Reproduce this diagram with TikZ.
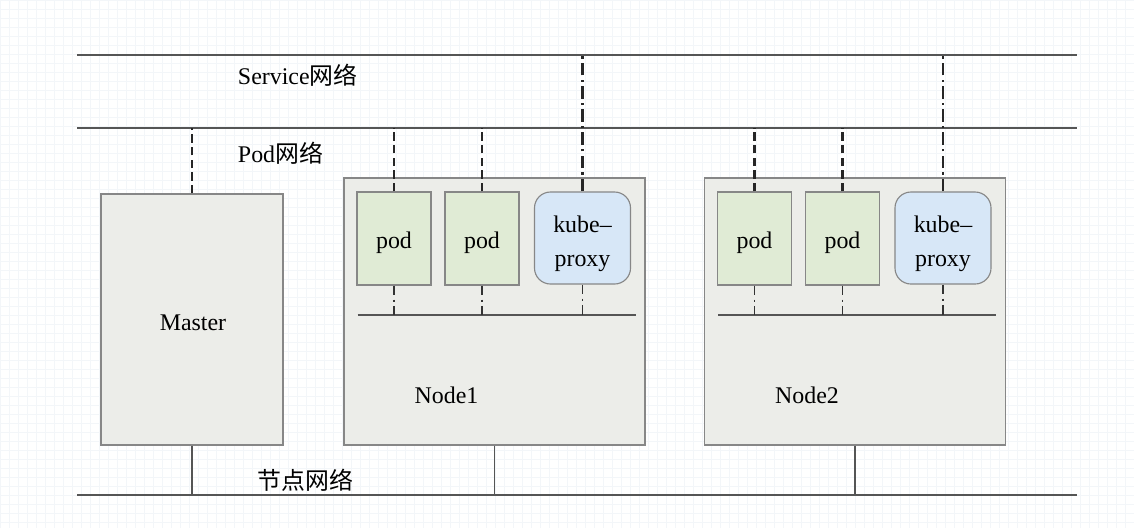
\documentclass[tikz,border=0pt]{standalone}
\usepackage{fontspec}
\setmainfont{Liberation Serif}
\newfontfamily\cjk{Noto Sans CJK SC}
\usetikzlibrary{positioning}
\definecolor{line1}{RGB}{85,85,85}
\definecolor{border1}{RGB}{135,135,135}
\definecolor{box1}{RGB}{236,237,233}
\definecolor{pod1}{RGB}{224,235,213}
\definecolor{proxy1}{RGB}{215,231,247}
\definecolor{grid1}{RGB}{243,246,249}

\begin{document}
\begin{tikzpicture}[x=0.025cm, y=-0.025cm,
    font=\fontsize{17}{20}\selectfont,
    hostbox/.style={draw=border1, fill=box1, line width=0.8pt, inner sep=0pt},
    podbox/.style={draw=border1, fill=pod1, line width=0.8pt, inner sep=0pt,
        minimum width=1.85cm, minimum height=2.325cm},
    proxybox/.style={draw=border1, fill=proxy1, line width=0.8pt, inner sep=0pt,
        rounded corners=0.4cm, minimum width=2.4cm, minimum height=2.3cm},
    boxtext/.style={inner sep=0pt, align=center, font=\fontsize{17}{24}\selectfont},
    netline/.style={line1, line width=1pt},
    podlink/.style={black!85, line width=2pt, dash pattern=on 6pt off 3pt},
    svclink/.style={black!85, line width=1.6pt, dash pattern=on 9pt off 3pt on 1.5pt off 3pt},
    buslink/.style={black!80, line width=1.1pt, dash pattern=on 7pt off 3pt on 1.5pt off 3pt},
    hostlink/.style={line1, line width=0.8pt}]
    \useasboundingbox (0,0) rectangle (1134,528);
    % Background grid
    \draw[grid1, line width=0.4pt, step=0.225cm] (0,0) grid (1134,528);
    % Networks
    \coordinate (svcL) at (77,55);   \coordinate (svcR) at (1077,55);
    \coordinate (podL) at (77,128);  \coordinate (podR) at (1077,128);
    \coordinate (hostL) at (77,495); \coordinate (hostR) at (1077,495);
    \draw[netline] (svcL) -- (svcR);
    \draw[netline] (podL) -- (podR);
    \draw[netline] (hostL) -- (hostR);
    \node[anchor=west] (svclabel) at (233,75) {Service{\cjk 网络}};
    \node[anchor=west] (podlabel) at (233,153) {Pod{\cjk 网络}};
    \node[anchor=west] (hostlabel) at (253,480) {\cjk 节点网络};
    % Master
    \node[hostbox, minimum width=4.55cm, minimum height=6.275cm] (master) at (192,319.5) {};
    \node[boxtext] (mastertext) at (193,323) {Master};
    \draw[podlink] (master.north) -- (master.north |- podL);
    \draw[hostlink] (master.south) -- (master.south |- hostL);
    % Worker nodes
    \foreach \n/\x in {1/494.5, 2/855}{
        \node[hostbox, minimum width=7.525cm, minimum height=6.675cm] (node\n) at (\x,311.5) {};
        \node (nodelabel\n) at (\x-48,395) {Node\n};
        \node[podbox] (pa\n) at (\x-100.5,238.5) {};
        \node[podbox] (pb\n) at (\x-12.5,238.5) {};
        \node[proxybox] (kp\n) at (\x+88,238) {};
        \node[boxtext] (pat\n) at (\x-100.5,243) {pod};
        \node[boxtext] (pbt\n) at (\x-12.5,243) {pod};
        \node[boxtext] (kpt\n) at (\x+88,244) {kube\textendash\\proxy};
        % inner bus
        \coordinate (busL\n) at (\x-137,315);
        \coordinate (busR\n) at (\x+141,315);
        \draw[netline] (busL\n) -- (busR\n);
        \draw[buslink] (pa\n.south) -- (pa\n.south |- busL\n);
        \draw[buslink] (pb\n.south) -- (pb\n.south |- busL\n);
        \draw[buslink] (kp\n.south) -- (kp\n.south |- busL\n);
        % links to networks
        \draw[podlink] (pa\n.north) -- (pa\n.north |- podL);
        \draw[podlink] (pb\n.north) -- (pb\n.north |- podL);
        \draw[svclink] (kp\n.north) -- (kp\n.north |- svcL);
        \draw[hostlink] (node\n.south) -- (node\n.south |- hostL);
    }
\end{tikzpicture}
\end{document}
